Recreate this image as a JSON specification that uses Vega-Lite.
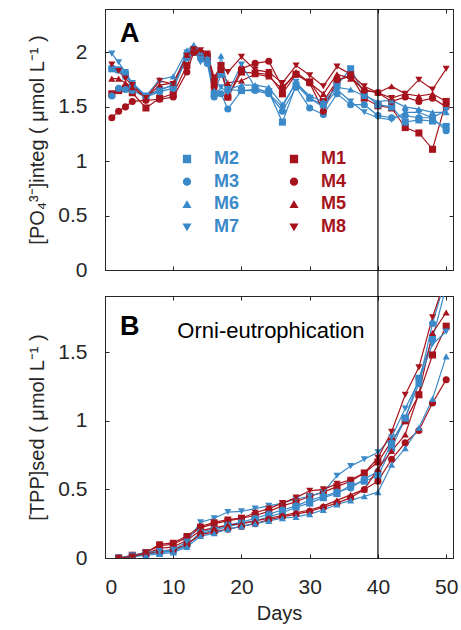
{
"$schema": "https://vega.github.io/schema/vega-lite/v6.json",
"padding": {"left": 27, "top": 7, "right": 6, "bottom": 5},
"config": {
  "font": "Liberation Sans",
  "view": {"stroke": "#262626", "strokeWidth": 1},
  "axis": {"grid": false, "domainColor": "#262626", "tickColor": "#262626", "labelColor": "#262626", "labelFontSize": 21, "titleFontSize": 20, "titleFontWeight": "normal", "titleColor": "#262626", "tickSize": -4, "labelPadding": 22, "titlePadding": 10, "format": "~r"},
  "axisBottom": {"titlePadding": 6}
},
"datasets": {
"po4": [
{"day":1,"series":"M1","value":1.62},{"day":2,"series":"M1","value":1.65},{"day":3,"series":"M1","value":1.67},{"day":4,"series":"M1","value":1.63},{"day":6,"series":"M1","value":1.49},{"day":8,"series":"M1","value":1.58},{"day":10,"series":"M1","value":1.62},{"day":12,"series":"M1","value":1.88},{"day":13,"series":"M1","value":2.02},{"day":14,"series":"M1","value":1.99},{"day":15,"series":"M1","value":1.97},{"day":16,"series":"M1","value":1.70},{"day":17,"series":"M1","value":1.88},{"day":18,"series":"M1","value":1.59},{"day":20,"series":"M1","value":1.82},{"day":22,"series":"M1","value":1.81},{"day":24,"series":"M1","value":1.80},{"day":26,"series":"M1","value":1.62},{"day":28,"series":"M1","value":1.80},{"day":30,"series":"M1","value":1.73},{"day":32,"series":"M1","value":1.55},{"day":34,"series":"M1","value":1.74},{"day":36,"series":"M1","value":1.79},{"day":38,"series":"M1","value":1.58},{"day":40,"series":"M1","value":1.51},{"day":42,"series":"M1","value":1.49},{"day":44,"series":"M1","value":1.31},{"day":46,"series":"M1","value":1.26},{"day":48,"series":"M1","value":1.11},{"day":50,"series":"M1","value":1.55},
{"day":1,"series":"M2","value":1.85},{"day":2,"series":"M2","value":1.84},{"day":3,"series":"M2","value":1.80},{"day":4,"series":"M2","value":1.70},{"day":6,"series":"M2","value":1.60},{"day":8,"series":"M2","value":1.66},{"day":10,"series":"M2","value":1.70},{"day":12,"series":"M2","value":1.97},{"day":13,"series":"M2","value":2.02},{"day":14,"series":"M2","value":1.98},{"day":15,"series":"M2","value":1.93},{"day":16,"series":"M2","value":1.62},{"day":17,"series":"M2","value":1.80},{"day":18,"series":"M2","value":1.66},{"day":20,"series":"M2","value":1.65},{"day":22,"series":"M2","value":1.66},{"day":24,"series":"M2","value":1.64},{"day":26,"series":"M2","value":1.36},{"day":28,"series":"M2","value":1.70},{"day":30,"series":"M2","value":1.58},{"day":32,"series":"M2","value":1.52},{"day":34,"series":"M2","value":1.70},{"day":36,"series":"M2","value":1.85},{"day":38,"series":"M2","value":1.62},{"day":40,"series":"M2","value":1.52},{"day":42,"series":"M2","value":1.50},{"day":44,"series":"M2","value":1.36},{"day":46,"series":"M2","value":1.38},{"day":48,"series":"M2","value":1.37},{"day":50,"series":"M2","value":1.32},
{"day":1,"series":"M3","value":1.60},{"day":2,"series":"M3","value":1.67},{"day":3,"series":"M3","value":1.66},{"day":4,"series":"M3","value":1.65},{"day":6,"series":"M3","value":1.59},{"day":8,"series":"M3","value":1.64},{"day":10,"series":"M3","value":1.67},{"day":12,"series":"M3","value":1.95},{"day":13,"series":"M3","value":2.00},{"day":14,"series":"M3","value":1.95},{"day":15,"series":"M3","value":1.90},{"day":16,"series":"M3","value":1.59},{"day":17,"series":"M3","value":1.62},{"day":18,"series":"M3","value":1.48},{"day":20,"series":"M3","value":1.65},{"day":22,"series":"M3","value":1.65},{"day":24,"series":"M3","value":1.62},{"day":26,"series":"M3","value":1.46},{"day":28,"series":"M3","value":1.68},{"day":30,"series":"M3","value":1.49},{"day":32,"series":"M3","value":1.43},{"day":34,"series":"M3","value":1.62},{"day":36,"series":"M3","value":1.52},{"day":38,"series":"M3","value":1.52},{"day":40,"series":"M3","value":1.42},{"day":42,"series":"M3","value":1.40},{"day":44,"series":"M3","value":1.42},{"day":46,"series":"M3","value":1.40},{"day":48,"series":"M3","value":1.40},{"day":50,"series":"M3","value":1.28},
{"day":1,"series":"M4","value":1.40},{"day":2,"series":"M4","value":1.46},{"day":3,"series":"M4","value":1.50},{"day":4,"series":"M4","value":1.55},{"day":6,"series":"M4","value":1.56},{"day":8,"series":"M4","value":1.57},{"day":10,"series":"M4","value":1.59},{"day":12,"series":"M4","value":1.82},{"day":13,"series":"M4","value":2.00},{"day":14,"series":"M4","value":2.00},{"day":15,"series":"M4","value":1.95},{"day":16,"series":"M4","value":1.75},{"day":17,"series":"M4","value":1.85},{"day":18,"series":"M4","value":1.59},{"day":20,"series":"M4","value":1.85},{"day":22,"series":"M4","value":1.90},{"day":24,"series":"M4","value":1.92},{"day":26,"series":"M4","value":1.68},{"day":28,"series":"M4","value":1.80},{"day":30,"series":"M4","value":1.72},{"day":32,"series":"M4","value":1.46},{"day":34,"series":"M4","value":1.75},{"day":36,"series":"M4","value":1.78},{"day":38,"series":"M4","value":1.65},{"day":40,"series":"M4","value":1.63},{"day":42,"series":"M4","value":1.55},{"day":44,"series":"M4","value":1.59},{"day":46,"series":"M4","value":1.55},{"day":48,"series":"M4","value":1.58},{"day":50,"series":"M4","value":1.50},
{"day":1,"series":"M5","value":1.76},{"day":2,"series":"M5","value":1.76},{"day":3,"series":"M5","value":1.72},{"day":4,"series":"M5","value":1.68},{"day":6,"series":"M5","value":1.58},{"day":8,"series":"M5","value":1.70},{"day":10,"series":"M5","value":1.72},{"day":12,"series":"M5","value":1.98},{"day":13,"series":"M5","value":2.05},{"day":14,"series":"M5","value":2.00},{"day":15,"series":"M5","value":1.96},{"day":16,"series":"M5","value":1.68},{"day":17,"series":"M5","value":1.84},{"day":18,"series":"M5","value":1.72},{"day":20,"series":"M5","value":1.74},{"day":22,"series":"M5","value":1.80},{"day":24,"series":"M5","value":1.78},{"day":26,"series":"M5","value":1.66},{"day":28,"series":"M5","value":1.82},{"day":30,"series":"M5","value":1.72},{"day":32,"series":"M5","value":1.62},{"day":34,"series":"M5","value":1.80},{"day":36,"series":"M5","value":1.76},{"day":38,"series":"M5","value":1.66},{"day":40,"series":"M5","value":1.63},{"day":42,"series":"M5","value":1.69},{"day":44,"series":"M5","value":1.62},{"day":46,"series":"M5","value":1.60},{"day":48,"series":"M5","value":1.62},{"day":50,"series":"M5","value":1.55},
{"day":1,"series":"M6","value":1.88},{"day":2,"series":"M6","value":1.85},{"day":3,"series":"M6","value":1.78},{"day":4,"series":"M6","value":1.72},{"day":6,"series":"M6","value":1.60},{"day":8,"series":"M6","value":1.75},{"day":10,"series":"M6","value":1.78},{"day":12,"series":"M6","value":2.02},{"day":13,"series":"M6","value":2.07},{"day":14,"series":"M6","value":2.00},{"day":15,"series":"M6","value":1.95},{"day":16,"series":"M6","value":1.65},{"day":17,"series":"M6","value":1.97},{"day":18,"series":"M6","value":1.66},{"day":20,"series":"M6","value":1.70},{"day":22,"series":"M6","value":1.70},{"day":24,"series":"M6","value":1.68},{"day":26,"series":"M6","value":1.52},{"day":28,"series":"M6","value":1.72},{"day":30,"series":"M6","value":1.60},{"day":32,"series":"M6","value":1.55},{"day":34,"series":"M6","value":1.68},{"day":36,"series":"M6","value":1.66},{"day":38,"series":"M6","value":1.60},{"day":40,"series":"M6","value":1.55},{"day":42,"series":"M6","value":1.56},{"day":44,"series":"M6","value":1.50},{"day":46,"series":"M6","value":1.48},{"day":48,"series":"M6","value":1.45},{"day":50,"series":"M6","value":1.45},
{"day":1,"series":"M7","value":1.99},{"day":2,"series":"M7","value":1.91},{"day":3,"series":"M7","value":1.82},{"day":4,"series":"M7","value":1.72},{"day":6,"series":"M7","value":1.60},{"day":8,"series":"M7","value":1.65},{"day":10,"series":"M7","value":1.70},{"day":12,"series":"M7","value":2.00},{"day":13,"series":"M7","value":2.03},{"day":14,"series":"M7","value":1.91},{"day":15,"series":"M7","value":1.93},{"day":16,"series":"M7","value":1.60},{"day":17,"series":"M7","value":1.68},{"day":18,"series":"M7","value":1.63},{"day":20,"series":"M7","value":1.89},{"day":22,"series":"M7","value":1.68},{"day":24,"series":"M7","value":1.62},{"day":26,"series":"M7","value":1.50},{"day":28,"series":"M7","value":1.73},{"day":30,"series":"M7","value":1.58},{"day":32,"series":"M7","value":1.50},{"day":34,"series":"M7","value":1.66},{"day":36,"series":"M7","value":1.55},{"day":38,"series":"M7","value":1.45},{"day":40,"series":"M7","value":1.40},{"day":42,"series":"M7","value":1.38},{"day":44,"series":"M7","value":1.45},{"day":46,"series":"M7","value":1.45},{"day":48,"series":"M7","value":1.40},{"day":50,"series":"M7","value":1.47},
{"day":1,"series":"M8","value":1.89},{"day":2,"series":"M8","value":1.83},{"day":3,"series":"M8","value":1.76},{"day":4,"series":"M8","value":1.70},{"day":6,"series":"M8","value":1.58},{"day":8,"series":"M8","value":1.74},{"day":10,"series":"M8","value":1.71},{"day":12,"series":"M8","value":1.97},{"day":13,"series":"M8","value":2.03},{"day":14,"series":"M8","value":2.02},{"day":15,"series":"M8","value":1.99},{"day":16,"series":"M8","value":1.77},{"day":17,"series":"M8","value":1.88},{"day":18,"series":"M8","value":1.82},{"day":20,"series":"M8","value":1.96},{"day":22,"series":"M8","value":1.84},{"day":24,"series":"M8","value":1.82},{"day":26,"series":"M8","value":1.72},{"day":28,"series":"M8","value":1.88},{"day":30,"series":"M8","value":1.79},{"day":32,"series":"M8","value":1.69},{"day":34,"series":"M8","value":1.87},{"day":36,"series":"M8","value":1.80},{"day":38,"series":"M8","value":1.69},{"day":40,"series":"M8","value":1.63},{"day":42,"series":"M8","value":1.58},{"day":44,"series":"M8","value":1.62},{"day":46,"series":"M8","value":1.75},{"day":48,"series":"M8","value":1.66},{"day":50,"series":"M8","value":1.85}
],
"tpp": [
{"day":2,"series":"M1","value":0.0},{"day":4,"series":"M1","value":0.02},{"day":6,"series":"M1","value":0.04},{"day":8,"series":"M1","value":0.09},{"day":10,"series":"M1","value":0.10},{"day":12,"series":"M1","value":0.15},{"day":14,"series":"M1","value":0.22},{"day":16,"series":"M1","value":0.25},{"day":18,"series":"M1","value":0.27},{"day":20,"series":"M1","value":0.29},{"day":22,"series":"M1","value":0.31},{"day":24,"series":"M1","value":0.34},{"day":26,"series":"M1","value":0.38},{"day":28,"series":"M1","value":0.41},{"day":30,"series":"M1","value":0.45},{"day":32,"series":"M1","value":0.48},{"day":34,"series":"M1","value":0.52},{"day":36,"series":"M1","value":0.56},{"day":38,"series":"M1","value":0.62},{"day":40,"series":"M1","value":0.70},{"day":42,"series":"M1","value":0.85},{"day":44,"series":"M1","value":1.00},{"day":46,"series":"M1","value":1.19},{"day":48,"series":"M1","value":1.48},{"day":50,"series":"M1","value":1.69},
{"day":2,"series":"M2","value":0.0},{"day":4,"series":"M2","value":0.01},{"day":6,"series":"M2","value":0.03},{"day":8,"series":"M2","value":0.04},{"day":10,"series":"M2","value":0.05},{"day":12,"series":"M2","value":0.10},{"day":14,"series":"M2","value":0.18},{"day":16,"series":"M2","value":0.20},{"day":18,"series":"M2","value":0.23},{"day":20,"series":"M2","value":0.25},{"day":22,"series":"M2","value":0.27},{"day":24,"series":"M2","value":0.30},{"day":26,"series":"M2","value":0.33},{"day":28,"series":"M2","value":0.37},{"day":30,"series":"M2","value":0.40},{"day":32,"series":"M2","value":0.44},{"day":34,"series":"M2","value":0.47},{"day":36,"series":"M2","value":0.53},{"day":38,"series":"M2","value":0.56},{"day":40,"series":"M2","value":0.60},{"day":42,"series":"M2","value":0.80},{"day":44,"series":"M2","value":1.02},{"day":46,"series":"M2","value":1.31},{"day":48,"series":"M2","value":1.60},{"day":50,"series":"M2","value":1.98},
{"day":2,"series":"M3","value":0.0},{"day":4,"series":"M3","value":0.01},{"day":6,"series":"M3","value":0.03},{"day":8,"series":"M3","value":0.04},{"day":10,"series":"M3","value":0.05},{"day":12,"series":"M3","value":0.09},{"day":14,"series":"M3","value":0.19},{"day":16,"series":"M3","value":0.21},{"day":18,"series":"M3","value":0.24},{"day":20,"series":"M3","value":0.26},{"day":22,"series":"M3","value":0.29},{"day":24,"series":"M3","value":0.32},{"day":26,"series":"M3","value":0.35},{"day":28,"series":"M3","value":0.38},{"day":30,"series":"M3","value":0.42},{"day":32,"series":"M3","value":0.45},{"day":34,"series":"M3","value":0.48},{"day":36,"series":"M3","value":0.51},{"day":38,"series":"M3","value":0.575},{"day":40,"series":"M3","value":0.63},{"day":42,"series":"M3","value":0.84},{"day":44,"series":"M3","value":1.02},{"day":46,"series":"M3","value":1.27},{"day":48,"series":"M3","value":1.71},{"day":50,"series":"M3","value":2.05},
{"day":2,"series":"M4","value":0.0},{"day":4,"series":"M4","value":0.01},{"day":6,"series":"M4","value":0.03},{"day":8,"series":"M4","value":0.05},{"day":10,"series":"M4","value":0.06},{"day":12,"series":"M4","value":0.10},{"day":14,"series":"M4","value":0.17},{"day":16,"series":"M4","value":0.19},{"day":18,"series":"M4","value":0.21},{"day":20,"series":"M4","value":0.23},{"day":22,"series":"M4","value":0.25},{"day":24,"series":"M4","value":0.28},{"day":26,"series":"M4","value":0.30},{"day":28,"series":"M4","value":0.32},{"day":30,"series":"M4","value":0.34},{"day":32,"series":"M4","value":0.37},{"day":34,"series":"M4","value":0.40},{"day":36,"series":"M4","value":0.44},{"day":38,"series":"M4","value":0.50},{"day":40,"series":"M4","value":0.56},{"day":42,"series":"M4","value":0.72},{"day":44,"series":"M4","value":0.84},{"day":46,"series":"M4","value":0.93},{"day":48,"series":"M4","value":1.13},{"day":50,"series":"M4","value":1.30},
{"day":2,"series":"M5","value":0.0},{"day":4,"series":"M5","value":0.01},{"day":6,"series":"M5","value":0.03},{"day":8,"series":"M5","value":0.07},{"day":10,"series":"M5","value":0.08},{"day":12,"series":"M5","value":0.13},{"day":14,"series":"M5","value":0.20},{"day":16,"series":"M5","value":0.22},{"day":18,"series":"M5","value":0.24},{"day":20,"series":"M5","value":0.25},{"day":22,"series":"M5","value":0.27},{"day":24,"series":"M5","value":0.29},{"day":26,"series":"M5","value":0.31},{"day":28,"series":"M5","value":0.33},{"day":30,"series":"M5","value":0.35},{"day":32,"series":"M5","value":0.38},{"day":34,"series":"M5","value":0.42},{"day":36,"series":"M5","value":0.46},{"day":38,"series":"M5","value":0.50},{"day":40,"series":"M5","value":0.65},{"day":42,"series":"M5","value":0.78},{"day":44,"series":"M5","value":0.90},{"day":46,"series":"M5","value":1.20},{"day":48,"series":"M5","value":1.64},{"day":50,"series":"M5","value":1.79},
{"day":2,"series":"M6","value":0.0},{"day":4,"series":"M6","value":0.01},{"day":6,"series":"M6","value":0.02},{"day":8,"series":"M6","value":0.03},{"day":10,"series":"M6","value":0.04},{"day":12,"series":"M6","value":0.08},{"day":14,"series":"M6","value":0.16},{"day":16,"series":"M6","value":0.18},{"day":18,"series":"M6","value":0.21},{"day":20,"series":"M6","value":0.23},{"day":22,"series":"M6","value":0.25},{"day":24,"series":"M6","value":0.27},{"day":26,"series":"M6","value":0.29},{"day":28,"series":"M6","value":0.30},{"day":30,"series":"M6","value":0.32},{"day":32,"series":"M6","value":0.35},{"day":34,"series":"M6","value":0.39},{"day":36,"series":"M6","value":0.42},{"day":38,"series":"M6","value":0.45},{"day":40,"series":"M6","value":0.48},{"day":42,"series":"M6","value":0.68},{"day":44,"series":"M6","value":0.80},{"day":46,"series":"M6","value":0.95},{"day":48,"series":"M6","value":1.16},{"day":50,"series":"M6","value":1.47},
{"day":2,"series":"M7","value":0.0},{"day":4,"series":"M7","value":0.02},{"day":6,"series":"M7","value":0.04},{"day":8,"series":"M7","value":0.05},{"day":10,"series":"M7","value":0.06},{"day":12,"series":"M7","value":0.12},{"day":14,"series":"M7","value":0.26},{"day":16,"series":"M7","value":0.29},{"day":18,"series":"M7","value":0.335},{"day":20,"series":"M7","value":0.34},{"day":22,"series":"M7","value":0.36},{"day":24,"series":"M7","value":0.38},{"day":26,"series":"M7","value":0.40},{"day":28,"series":"M7","value":0.43},{"day":30,"series":"M7","value":0.45},{"day":32,"series":"M7","value":0.48},{"day":34,"series":"M7","value":0.60},{"day":36,"series":"M7","value":0.67},{"day":38,"series":"M7","value":0.72},{"day":40,"series":"M7","value":0.77},{"day":42,"series":"M7","value":0.88},{"day":44,"series":"M7","value":1.09},{"day":46,"series":"M7","value":1.29},{"day":48,"series":"M7","value":1.56},{"day":50,"series":"M7","value":1.65},
{"day":2,"series":"M8","value":0.0},{"day":4,"series":"M8","value":0.01},{"day":6,"series":"M8","value":0.04},{"day":8,"series":"M8","value":0.10},{"day":10,"series":"M8","value":0.11},{"day":12,"series":"M8","value":0.16},{"day":14,"series":"M8","value":0.23},{"day":16,"series":"M8","value":0.26},{"day":18,"series":"M8","value":0.28},{"day":20,"series":"M8","value":0.29},{"day":22,"series":"M8","value":0.33},{"day":24,"series":"M8","value":0.36},{"day":26,"series":"M8","value":0.40},{"day":28,"series":"M8","value":0.44},{"day":30,"series":"M8","value":0.49},{"day":32,"series":"M8","value":0.50},{"day":34,"series":"M8","value":0.54},{"day":36,"series":"M8","value":0.57},{"day":38,"series":"M8","value":0.62},{"day":40,"series":"M8","value":0.73},{"day":42,"series":"M8","value":0.92},{"day":44,"series":"M8","value":1.19},{"day":46,"series":"M8","value":1.39},{"day":48,"series":"M8","value":1.755},{"day":50,"series":"M8","value":2.05}
],
"one": [{}]
},
"bounds": "flush",
"spacing": 26,
"resolve": {"scale": {"color": "independent", "shape": "independent"}, "legend": {"color": "independent", "shape": "independent"}},
"vconcat": [
{
  "width": 348, "height": 261,
  "layer": [
    {"data": {"name": "po4"}, "mark": {"type": "line", "strokeWidth": 1.2, "clip": true},
     "encoding": {
       "x": {"field": "day", "type": "quantitative", "scale": {"domain": [0, 51], "nice": false}, "axis": {"orient": "bottom", "labels": false, "labelPadding": 0, "title": null, "values": [0, 10, 20, 30, 40, 50]}},
       "y": {"field": "value", "type": "quantitative", "scale": {"domain": [0, 2.4], "nice": false}, "axis": {"orient": "left", "values": [0, 0.5, 1, 1.5, 2], "title": "[PO₄³⁻]integ  ( μmol L⁻¹ )"}},
       "color": {"field": "series", "type": "nominal", "scale": {"domain": ["M2","M3","M6","M7","M1","M4","M5","M8"], "range": ["#3a89c9","#3a89c9","#3a89c9","#3a89c9","#a6131c","#a6131c","#a6131c","#a6131c"]},
         "legend": {"orient": "none", "legendX": 73, "legendY": 141, "columns": 2, "columnPadding": 45, "rowPadding": 4.7, "title": null, "labelFontSize": 18, "labelFontWeight": "bold", "symbolSize": 50, "labelOffset": 18,
           "encode": {
             "labels": {"update": {"fill": {"signal": "indexof(['M2','M3','M6','M7'], datum.value) >= 0 ? '#3a89c9' : '#a6131c'"}}},
             "symbols": {"update": {
               "shape": {"signal": "(datum.value=='M2'||datum.value=='M1') ? 'M-3,0H3M-0.85,-0.85H0.85V0.85H-0.85Z' : (datum.value=='M3'||datum.value=='M4') ? 'M-3,0H3M0.95,0A0.95,0.95 0 1,1 -0.95,0A0.95,0.95 0 1,1 0.95,0Z' : (datum.value=='M6'||datum.value=='M5') ? 'M-3,0H3M0,-1.1L1.1,0.85H-1.1Z' : 'M-3,0H3M0,1.1L1.1,-0.85H-1.1Z'"},
               "fill": {"signal": "indexof(['M2','M3','M6','M7'], datum.value) >= 0 ? '#3a89c9' : '#a6131c'"},
               "stroke": {"signal": "indexof(['M2','M3','M6','M7'], datum.value) >= 0 ? '#3a89c9' : '#a6131c'"},
               "strokeWidth": {"value": 1.2},
               "opacity": {"value": 1}}}}}}
     }},
    {"data": {"name": "po4"}, "mark": {"type": "point", "filled": true, "size": 50, "opacity": 1, "clip": true},
     "encoding": {
       "x": {"field": "day", "type": "quantitative", "axis": null},
       "y": {"field": "value", "type": "quantitative", "axis": null},
       "color": {"field": "series", "type": "nominal", "scale": {"domain": ["M2","M3","M6","M7","M1","M4","M5","M8"], "range": ["#3a89c9","#3a89c9","#3a89c9","#3a89c9","#a6131c","#a6131c","#a6131c","#a6131c"]}},
       "shape": {"field": "series", "type": "nominal", "scale": {"domain": ["M2","M3","M6","M7","M1","M4","M5","M8"], "range": ["square","circle","triangle-up","triangle-down","square","circle","triangle-up","triangle-down"]}, "legend": null}
     }},
    {"data": {"name": "one"}, "mark": {"type": "rule", "color": "black", "strokeWidth": 1.2, "clip": false},
     "encoding": {
       "x": {"datum": 40, "type": "quantitative", "axis": {"orient": "top", "labels": false, "labelPadding": 0, "title": null, "values": [0, 10, 20, 30, 40, 50]}},
       "y": {"datum": 2.4, "type": "quantitative", "axis": {"orient": "right", "labels": false, "labelPadding": 0, "title": null, "values": [0, 0.5, 1, 1.5, 2]}},
       "y2": {"datum": -0.24}
     }},
    {"data": {"name": "one"}, "mark": {"type": "text", "text": "A", "fontSize": 27, "fontWeight": "bold", "align": "left", "baseline": "alphabetic", "color": "black"},
     "encoding": {
       "x": {"datum": 2.2, "type": "quantitative", "axis": null},
       "y": {"datum": 2.093, "type": "quantitative", "axis": null}
     }}
  ],
  "resolve": {"axis": {"x": "independent", "y": "independent"}}
},
{
  "width": 348, "height": 262,
  "layer": [
    {"data": {"name": "tpp"}, "mark": {"type": "line", "strokeWidth": 1.2, "clip": true},
     "encoding": {
       "x": {"field": "day", "type": "quantitative", "scale": {"domain": [0, 51], "nice": false}, "axis": {"orient": "bottom", "values": [0, 10, 20, 30, 40, 50], "title": "Days"}},
       "y": {"field": "value", "type": "quantitative", "scale": {"domain": [0, 1.91], "nice": false}, "axis": {"orient": "left", "values": [0, 0.5, 1, 1.5], "title": "[TPP]sed  ( μmol L⁻¹ )"}},
       "color": {"field": "series", "type": "nominal", "scale": {"domain": ["M2","M3","M6","M7","M1","M4","M5","M8"], "range": ["#3a89c9","#3a89c9","#3a89c9","#3a89c9","#a6131c","#a6131c","#a6131c","#a6131c"]}, "legend": null}
     }},
    {"data": {"name": "tpp"}, "mark": {"type": "point", "filled": true, "size": 50, "opacity": 1, "clip": true},
     "encoding": {
       "x": {"field": "day", "type": "quantitative", "axis": null},
       "y": {"field": "value", "type": "quantitative", "axis": null},
       "color": {"field": "series", "type": "nominal", "scale": {"domain": ["M2","M3","M6","M7","M1","M4","M5","M8"], "range": ["#3a89c9","#3a89c9","#3a89c9","#3a89c9","#a6131c","#a6131c","#a6131c","#a6131c"]}, "legend": null},
       "shape": {"field": "series", "type": "nominal", "scale": {"domain": ["M2","M3","M6","M7","M1","M4","M5","M8"], "range": ["square","circle","triangle-up","triangle-down","square","circle","triangle-up","triangle-down"]}, "legend": null}
     }},
    {"data": {"name": "one"}, "mark": {"type": "rule", "color": "black", "strokeWidth": 1.2, "clip": false},
     "encoding": {
       "x": {"datum": 40, "type": "quantitative", "axis": {"orient": "top", "labels": false, "labelPadding": 0, "title": null, "values": [0, 10, 20, 30, 40, 50]}},
       "y": {"datum": 0, "type": "quantitative", "axis": {"orient": "right", "labels": false, "labelPadding": 0, "title": null, "values": [0, 0.5, 1, 1.5]}},
       "y2": {"datum": 1.91}
     }},
    {"data": {"name": "one"}, "mark": {"type": "text", "text": "B", "fontSize": 27, "fontWeight": "bold", "align": "left", "baseline": "alphabetic", "color": "black"},
     "encoding": {
       "x": {"datum": 2.2, "type": "quantitative", "axis": null},
       "y": {"datum": 1.629, "type": "quantitative", "axis": null}
     }},
    {"data": {"name": "one"}, "mark": {"type": "text", "text": "Orni-eutrophication", "fontSize": 22, "align": "left", "baseline": "alphabetic", "color": "black"},
     "encoding": {
       "x": {"datum": 10.6, "type": "quantitative", "axis": null},
       "y": {"datum": 1.605, "type": "quantitative", "axis": null}
     }}
  ],
  "resolve": {"axis": {"x": "independent", "y": "independent"}}
}
]
}
